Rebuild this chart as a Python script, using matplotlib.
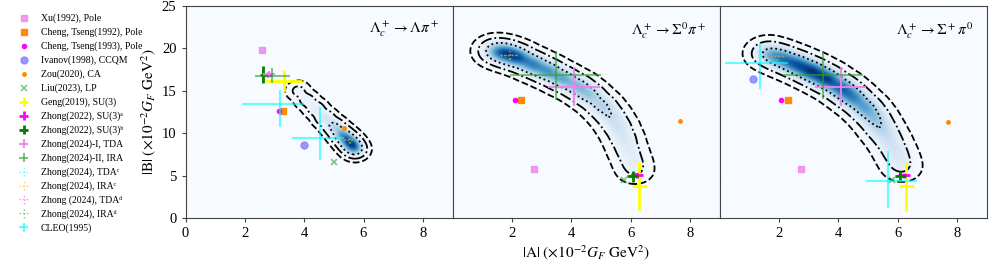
import numpy as np
import matplotlib
matplotlib.use("Agg")
import matplotlib.pyplot as plt

plt.rcParams['font.family'] = ['Liberation Serif', 'DejaVu Serif', 'DejaVu Sans']
plt.rcParams['mathtext.fontset'] = 'stix'

# ---------------- data ----------------
panel_titles = [r'$\Lambda_c^+\to\Lambda\pi^+$',
                r'$\Lambda_c^+\to\Sigma^0\pi^+$',
                r'$\Lambda_c^+\to\Sigma^+\pi^0$']

# ridge of the posterior density: (x, y, weight) per panel
ridge1 = [(3.8, 15.0, 0.10), (4.1, 13.9, 0.13), (4.4, 12.9, 0.18), (4.7, 11.8, 0.28),
          (5.0, 10.8, 0.45), (5.25, 9.9, 0.75), (5.45, 9.2, 1.0), (5.6, 8.6, 1.0),
          (5.72, 8.1, 0.6)]
ridge2 = [(1.45, 19.7, 0.6), (1.8, 19.4, 1.0), (2.2, 18.9, 1.0), (2.7, 18.1, 0.9),
          (3.2, 17.3, 0.8), (3.7, 16.4, 0.7), (4.2, 15.5, 0.6), (4.6, 14.5, 0.5),
          (5.0, 13.3, 0.4), (5.3, 12.1, 0.3), (5.55, 10.8, 0.25), (5.75, 9.4, 0.2),
          (5.9, 8.0, 0.15), (6.05, 6.7, 0.12), (6.15, 5.6, 0.08)]
ridge3 = [(1.65, 19.4, 0.45), (2.1, 18.8, 0.7), (2.6, 18.1, 0.85), (3.1, 17.3, 1.0),
          (3.6, 16.4, 1.0), (4.1, 15.3, 0.85), (4.5, 14.2, 0.7), (4.9, 13.0, 0.55),
          (5.2, 11.8, 0.4), (5.45, 10.5, 0.3), (5.7, 9.2, 0.2), (5.9, 7.9, 0.15),
          (6.05, 6.8, 0.1), (6.15, 5.9, 0.07)]
ridges = [ridge1, ridge2, ridge3]
ridge_sx = [0.18, 0.28, 0.3]
ridge_sy = [0.5, 0.7, 0.75]

# point predictions: per panel (x, y) or None
xu       = [(2.57, 19.8), (2.74, 5.77), (2.74, 5.77)]
cheng92  = [(3.30, 12.6), (2.31, 13.93), (2.32, 13.93)]
cheng93  = [(3.15, 12.6), (2.09, 13.93), (2.08, 13.93)]
ivanov   = [(4.01, 8.56), None, (1.12, 16.4)]
zou      = [(5.35, 10.56), (7.67, 11.38), (7.70, 11.34)]
liu      = [(5.01, 6.6), (5.78, 4.47), (5.83, 4.47)]

# error-bar predictions: per panel (x, y, xerr, yerr)
geng     = [(3.33, 16.2, 0.6, 1.3), (6.30, 3.77, 0.24, 2.85), (6.30, 3.73, 0.24, 2.85)]
zh22a    = [(2.78, 16.9, 0.15, 0.3), (6.22, 5.02, 0.2, 0.3), (6.22, 5.02, 0.2, 0.3)]
zh22b    = [(2.62, 16.9, 0.12, 1.0), (6.07, 4.9, 0.18, 0.65), (6.10, 4.95, 0.18, 0.65)]
zh24tda  = [(2.80, 17.0, 0.2, 0.35), (4.09, 15.5, 0.87, 2.3), (4.08, 15.46, 0.87, 2.3)]
zh24ira  = [(2.93, 16.8, 0.58, 0.85), (3.48, 16.84, 1.53, 2.9), (3.49, 16.84, 1.36, 2.8)]
tdac     = [(5.55, 9.2, 0.2, 0.4), (1.93, 19.2, 0.3, 0.5), (1.91, 19.1, 0.3, 0.5)]
irac     = [(5.55, 9.3, 0.2, 0.4), (1.95, 19.2, 0.3, 0.5), (1.93, 19.1, 0.3, 0.5)]
tdad     = [(5.50, 9.2, 0.2, 0.4), (1.90, 19.2, 0.3, 0.5), (1.90, 19.1, 0.3, 0.5)]
irad     = [(5.52, 9.2, 0.2, 0.4), (1.92, 19.2, 0.3, 0.5), (1.92, 19.1, 0.3, 0.5)]
# CLEO (1995): two solutions per panel, (x, y, xlo, xhi, ylo, yhi)
cleo     = [[(3.17, 13.4, 1.27, 0.83, 2.7, 1.7), (4.55, 9.42, 0.95, 0.8, 2.63, 3.65)],
            [],
            [(1.35, 18.25, 1.15, 0.95, 3.05, 2.35), (5.69, 4.32, 0.75, 0.96, 3.14, 3.53)]]

labels = ['Xu(1992), Pole', 'Cheng, Tseng(1992), Pole', 'Cheng, Tseng(1993), Pole',
          'Ivanov(1998), CCQM', 'Zou(2020), CA', 'Liu(2023), LP', 'Geng(2019), SU(3)',
          'Zhong(2022), SU(3)\u1d43', 'Zhong(2022), SU(3)\u1d47', 'Zhong(2024)-I, TDA',
          'Zhong(2024)-II, IRA', 'Zhong(2024), TDA\u1d9c', 'Zhong(2024), IRA\u1d9c',
          'Zhong (2024), TDA\u1d48', 'Zhong(2024), IRA\u1d48', 'CLEO(1995)']

# ---------------- figure ----------------
fig = plt.figure(figsize=(9.97, 2.66), dpi=100)
W, H = 997, 266
axw = 267 / W
axes = [fig.add_axes([(185.5 + i * 267) / W, 48 / H, axw, 212 / H]) for i in range(3)]

xg = np.linspace(0, 9, 400)
yg = np.linspace(0, 25, 500)
X, Y = np.meshgrid(xg, yg)
cmap = plt.get_cmap('Blues')

for i, ax in enumerate(axes):
    Z = np.zeros_like(X)
    for (cx, cy, w) in ridges[i]:
        Z += w * np.exp(-0.5 * (((X - cx) / ridge_sx[i]) ** 2 + ((Y - cy) / ridge_sy[i]) ** 2))
    Z /= Z.sum()
    zs = np.sort(Z.ravel())[::-1]
    cs = np.cumsum(zs)
    lev = [zs[np.searchsorted(cs, p)] for p in (0.997, 0.954, 0.683)]
    ax.imshow(Z, extent=[0, 9, 0, 25], origin='lower', aspect='auto', cmap=cmap,
              vmin=0, vmax=Z.max(), interpolation='bilinear', zorder=0)
    ax.contour(X, Y, Z, levels=lev, colors='black', linewidths=1.3,
               linestyles=['--', '-.', ':'], zorder=1)

    def pt(data, **kw):
        if data[i] is not None:
            ax.plot(*data[i], linestyle='none', zorder=3, **kw)
    pt(xu, marker='s', ms=5, color='violet', alpha=0.8, label=labels[0])
    pt(cheng92, marker='s', ms=5, color='darkorange', label=labels[1])
    pt(cheng93, marker='o', ms=3, color='magenta', label=labels[2])
    pt(ivanov, marker='o', ms=5, color='#7f7fff', alpha=0.8, label=labels[3])
    pt(zou, marker='o', ms=2.5, color='darkorange', label=labels[4])
    pt(liu, marker='x', ms=4.5, mew=1.2, color='tab:green', alpha=0.6, label=labels[5])

    def eb(data, color, lw, ls='-', alpha=1.0, label=None):
        x, y, xe, ye = data[i]
        c = ax.errorbar([x], [y], xerr=[xe], yerr=[ye], fmt='none', ecolor=color,
                        elinewidth=lw, alpha=alpha, zorder=4, label=label)
        if ls != '-':
            for lc in c.lines[2]:
                lc.set_linestyle(ls)
    eb(geng, 'yellow', 2.0, label=labels[6])
    eb(zh22a, 'magenta', 2.0, label=labels[7])
    eb(zh22b, 'green', 2.0, label=labels[8])
    eb(zh24tda, 'violet', 1.5, alpha=0.9, label=labels[9])
    eb(zh24ira, 'tab:green', 1.5, alpha=0.6, label=labels[10])
    eb(tdac, 'cyan', 1.0, ':', alpha=0.6, label=labels[11])
    eb(irac, 'orange', 1.0, ':', alpha=0.6, label=labels[12])
    eb(tdad, 'violet', 1.0, ':', alpha=0.9, label=labels[13])
    eb(irad, 'tab:green', 1.0, ':', alpha=0.6, label=labels[14])
    for (x, y, xl, xh, yl, yh) in cleo[i]:
        ax.errorbar([x], [y], xerr=[[xl], [xh]], yerr=[[yl], [yh]], fmt='none',
                    ecolor='cyan', elinewidth=1.5, alpha=0.6, zorder=4)

    ax.set_xlim(0, 9)
    ax.set_ylim(0, 25)
    ax.text(0.95, 0.935, panel_titles[i], transform=ax.transAxes, ha='right', va='top',
            fontsize=11)
    for s in ax.spines.values():
        s.set_color('#444444')
    ax.tick_params(labelsize=10.5, length=3, color='#444444')
    if i == 0:
        ax.set_xticks([0, 2, 4, 6, 8])
        ax.set_yticks([0, 5, 10, 15, 20, 25])
        ax.set_ylabel(r'$|\mathrm{B}|\ (\times 10^{-2} G_F\ \mathrm{GeV}^2)$', fontsize=11,
                      labelpad=3)
    else:
        ax.set_xticks([2, 4, 6, 8])
        ax.set_yticks([])
    if i == 1:
        ax.set_xlabel(r'$|\mathrm{A}|\ (\times 10^{-2} G_F\ \mathrm{GeV}^2)$', fontsize=11,
                      labelpad=2)

# legend from panel 1 handles plus CLEO proxy
h, l = axes[0].get_legend_handles_labels()
cleo_proxy = axes[0].errorbar([], [], xerr=[], yerr=[], fmt='none', ecolor='cyan',
                              elinewidth=1.5, alpha=0.6)
h.append(cleo_proxy)
l.append(labels[15])
fig.legend(h, l, loc='upper left', bbox_to_anchor=(10 / W, 1 - 10 / H), frameon=False,
           fontsize=7, labelspacing=0.45, handleheight=0.8, handlelength=2.0,
           handletextpad=0.8, borderaxespad=0)

fig.savefig('out.png', dpi=100)
